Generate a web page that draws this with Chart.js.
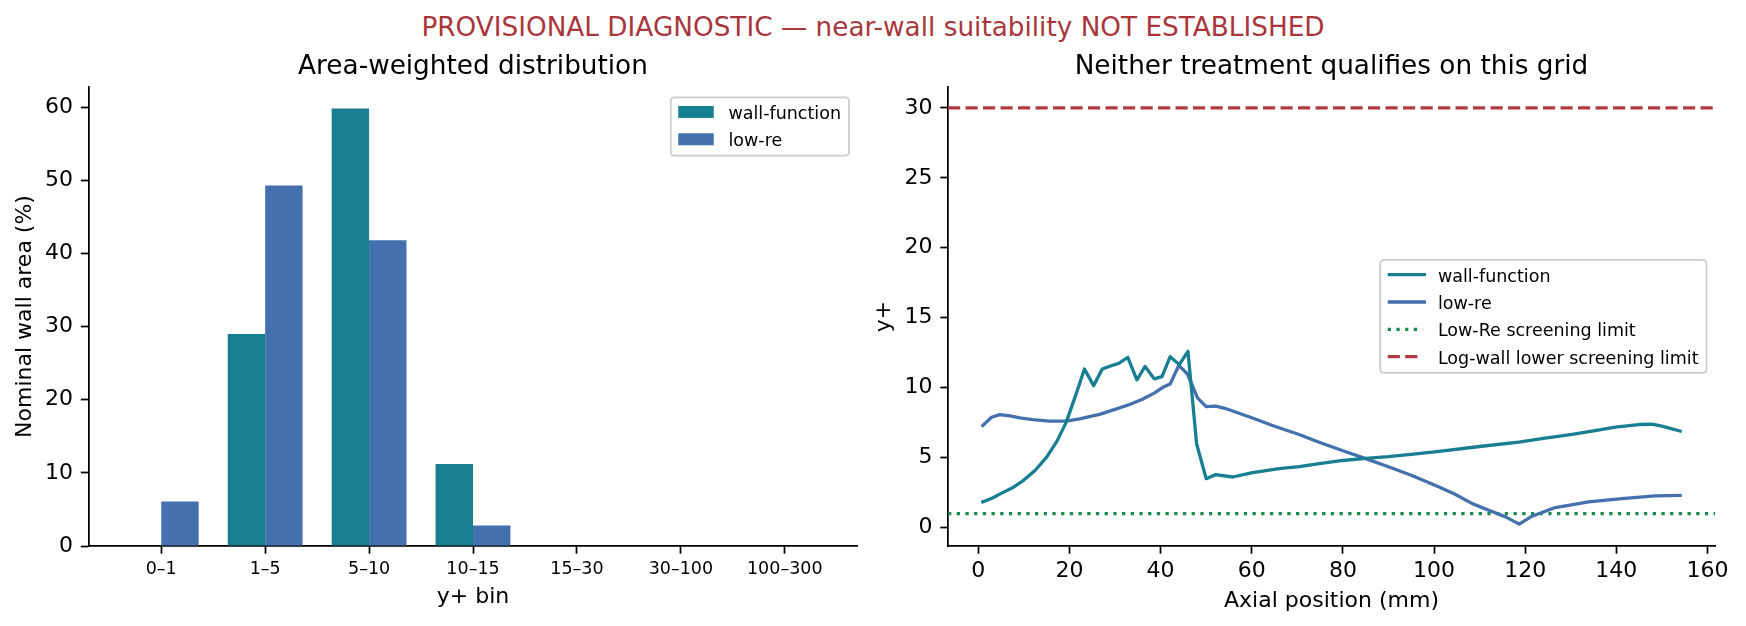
<!DOCTYPE html>
<html>
<head>
<meta charset="utf-8">
<script src="https://cdn.jsdelivr.net/npm/chart.js@4.4.1/dist/chart.umd.min.js"></script>
<style>
html,body{margin:0;padding:0;background:#fff;}
#wrap{position:relative;width:1746px;height:626px;overflow:hidden;background:#fff;}
#wrap canvas{position:absolute;left:0;top:0;}
#sup{position:absolute;left:0;top:12px;width:1746px;text-align:center;font-family:"DejaVu Sans";font-size:26.3px;line-height:30px;color:#a8363c;white-space:nowrap;}
</style>
</head>
<body>
<div id="wrap">
  <div id="sup">PROVISIONAL DIAGNOSTIC — near-wall suitability NOT ESTABLISHED</div>
  <canvas id="c1" width="1746" height="626"></canvas>
  <canvas id="c2" width="1746" height="626"></canvas>
</div>
<script>
// ---------- data: left panel (area-weighted distribution, % of wall area) ----------
const yPlusBins      = ['0–1', '1–5', '5–10', '10–15', '15–30', '30–100', '100–300'];
const wallFunctionPct = [0, 29.0, 59.8, 11.2, 0, 0, 0];
const lowRePct        = [6.1, 49.3, 41.8, 2.8, 0, 0, 0];
const leftYTicks      = [0, 10, 20, 30, 40, 50, 60];

// ---------- data: right panel (y+ along axial position) ----------
const wallFunctionX = [1.0, 3.0, 5.0, 7.5, 10.0, 12.5, 15.0, 17.3, 19.3, 21.3, 23.3, 25.3, 27.2, 29.0, 30.8, 32.8, 34.8, 36.6, 38.6, 40.3, 42.1, 44.1, 46.0, 47.9, 50.0, 52.1, 55.8, 60.2, 66.0, 70.4, 74.8, 80.0, 85.0, 90.0, 96.0, 101.1, 110.0, 118.6, 124.0, 130.3, 135.0, 139.8, 144.9, 147.8, 150.0, 154.0];
const wallFunctionY = [1.85, 2.1, 2.45, 2.85, 3.4, 4.1, 5.04, 6.2, 7.54, 9.4, 11.34, 10.15, 11.34, 11.55, 11.74, 12.17, 10.56, 11.52, 10.63, 10.79, 12.22, 11.65, 12.6, 6.0, 3.5, 3.79, 3.62, 3.93, 4.22, 4.36, 4.57, 4.8, 4.95, 5.08, 5.28, 5.45, 5.8, 6.11, 6.38, 6.66, 6.92, 7.18, 7.37, 7.39, 7.25, 6.9];
const lowReX = [1.0, 2.9, 4.7, 7.0, 9.1, 12.0, 15.7, 19.3, 22.2, 26.6, 30.0, 33.2, 36.0, 38.7, 40.5, 42.1, 44.0, 45.9, 48.1, 50.0, 52.1, 54.1, 60.0, 65.0, 70.4, 74.8, 80.0, 85.0, 90.0, 95.0, 101.1, 104.5, 108.4, 112.0, 115.7, 118.7, 121.5, 126.6, 133.9, 141.2, 148.5, 154.0];
const lowReY = [7.3, 7.89, 8.08, 7.98, 7.85, 7.72, 7.61, 7.61, 7.78, 8.1, 8.45, 8.8, 9.18, 9.63, 10.03, 10.27, 11.6, 10.98, 9.27, 8.65, 8.68, 8.53, 7.85, 7.25, 6.66, 6.1, 5.5, 4.93, 4.35, 3.75, 2.91, 2.4, 1.72, 1.25, 0.77, 0.25, 0.82, 1.44, 1.84, 2.08, 2.27, 2.31];
const lowReScreeningLimit = 1;
const logWallLowerLimit   = 30;
const rightXTicks = [0, 20, 40, 60, 80, 100, 120, 140, 160];
const rightYTicks = [0, 5, 10, 15, 20, 25, 30];

// ---------- axis ranges ----------
const LEFT_X_MIN = -0.7, LEFT_X_MAX = 6.7, LEFT_Y_MIN = 0, LEFT_Y_MAX = 62.76;
const RIGHT_X_MIN = -6.65, RIGHT_X_MAX = 161.65, RIGHT_Y_MIN = -1.31, RIGHT_Y_MAX = 31.49;

// ---------- styles ----------
const FAMILY = '"DejaVu Sans"';
const TEAL = '#187e92', BLUE = '#4471ad', GREEN = '#1b8a50', RED = '#b03c42';
const LW = 3.3;

const axisCommon = (tickSize) => ({
  grid: {display: true, offset: false, drawOnChartArea: false, drawTicks: true, tickLength: 7.7, tickWidth: 1.75, tickColor: '#000'},
  border: {display: true, color: '#000', width: 1.75},
  ticks: {color: '#000', font: {family: FAMILY, size: tickSize}, autoSkip: false, maxRotation: 0, minRotation: 0}
});

// matplotlib-style legend box drawn from the chart's own datasets
const mplLegend = {
  id: 'mplLegend',
  afterDraw(chart, args, opts) {
    const {ctx, chartArea: ca} = chart;
    const isBar = chart.config.type === 'bar';
    const dsets = chart.data.datasets;
    ctx.save();
    ctx.font = '17.5px ' + FAMILY;
    const maxW = Math.max(...dsets.map(d => ctx.measureText(d.label).width));
    const rowH = 27.3;
    const w = 57.7 + maxW + 8;
    const h = dsets.length * rowH + 3.8;
    const x = ca.right - 8.5 - w;
    const y = opts.loc === 'center right' ? (ca.top + ca.bottom) / 2 - h / 2 : ca.top + 10.3;
    const r = 4;
    ctx.beginPath();
    ctx.moveTo(x + r, y);
    ctx.lineTo(x + w - r, y); ctx.quadraticCurveTo(x + w, y, x + w, y + r);
    ctx.lineTo(x + w, y + h - r); ctx.quadraticCurveTo(x + w, y + h, x + w - r, y + h);
    ctx.lineTo(x + r, y + h); ctx.quadraticCurveTo(x, y + h, x, y + h - r);
    ctx.lineTo(x, y + r); ctx.quadraticCurveTo(x, y, x + r, y);
    ctx.closePath();
    ctx.fillStyle = 'rgba(255,255,255,0.8)';
    ctx.fill();
    ctx.lineWidth = 1.75;
    ctx.strokeStyle = '#cccccc';
    ctx.stroke();
    dsets.forEach((d, i) => {
      const cy = y + 14.7 + i * rowH;
      const hx = x + 7.5;
      if (isBar) {
        ctx.fillStyle = d.backgroundColor;
        ctx.fillRect(hx, cy - 6, 35.5, 12);
      } else {
        ctx.save();
        ctx.strokeStyle = d.borderColor;
        ctx.lineWidth = d.borderWidth;
        const dash = d.borderDash || [];
        ctx.setLineDash(dash);
        ctx.lineCap = dash.length ? 'butt' : 'square';
        ctx.beginPath();
        ctx.moveTo(hx + (dash.length ? 0 : 1.65), cy);
        ctx.lineTo(hx + (dash.length ? 35 : 36.65), cy);
        ctx.stroke();
        ctx.restore();
      }
      ctx.fillStyle = '#000';
      ctx.textBaseline = 'alphabetic';
      ctx.textAlign = 'left';
      ctx.fillText(d.label, x + 57.7, cy + 7);
    });
    ctx.restore();
  }
};

// ---------- left chart ----------
const lx = axisCommon(17.5), ly = axisCommon(22);
new Chart(document.getElementById('c1'), {
  type: 'bar',
  data: {
    datasets: [
      {label: 'wall-function', data: yPlusBins.map((b, i) => ({x: i, y: wallFunctionPct[i]})), backgroundColor: TEAL, borderWidth: 0},
      {label: 'low-re', data: yPlusBins.map((b, i) => ({x: i, y: lowRePct[i]})), backgroundColor: BLUE, borderWidth: 0}
    ]
  },
  options: {
    responsive: false, animation: false, devicePixelRatio: 1,
    layout: {padding: {left: 0, right: 1746 - 857.5, top: 0, bottom: 0}},
    datasets: {bar: {categoryPercentage: 0.72, barPercentage: 1.0}},
    plugins: {
      legend: {display: false}, tooltip: {enabled: false},
      title: {display: true, text: 'Area-weighted distribution', fullSize: false, color: '#000',
              font: {family: FAMILY, size: 26.3, weight: 'normal'}, padding: {top: 50.9, bottom: 4.5}},
      mplLegend: {loc: 'upper right'}
    },
    scales: {
      x: {
        type: 'linear', offset: false, min: LEFT_X_MIN, max: LEFT_X_MAX,
        grid: lx.grid, border: lx.border,
        ticks: Object.assign({}, lx.ticks, {padding: 5.3, callback: v => yPlusBins[v]}),
        afterBuildTicks: s => { s.ticks = yPlusBins.map((b, i) => ({value: i})); },
        afterFit: s => { s.height = 80; },
        title: {display: true, text: 'y+ bin', color: '#000', font: {family: FAMILY, size: 22}, padding: {top: 0, bottom: 15.5}}
      },
      y: {
        type: 'linear', min: LEFT_Y_MIN, max: LEFT_Y_MAX,
        grid: ly.grid, border: ly.border,
        ticks: Object.assign({}, ly.ticks, {padding: 7.7}),
        afterBuildTicks: s => { s.ticks = leftYTicks.map(v => ({value: v})); },
        afterFit: s => { s.width = 88.5; },
        title: {display: true, text: 'Nominal wall area (%)', color: '#000', font: {family: FAMILY, size: 22}, padding: {top: 12, bottom: 0}}
      }
    }
  },
  plugins: [mplLegend]
});

// ---------- right chart ----------
const rx = axisCommon(22), ry = axisCommon(22);
const lineStyle = {pointRadius: 0, tension: 0, borderWidth: LW, borderJoinStyle: 'round', fill: false};
new Chart(document.getElementById('c2'), {
  type: 'line',
  data: {
    datasets: [
      Object.assign({label: 'wall-function', data: wallFunctionX.map((x, i) => ({x, y: wallFunctionY[i]})), borderColor: TEAL, borderCapStyle: 'square'}, lineStyle),
      Object.assign({label: 'low-re', data: lowReX.map((x, i) => ({x, y: lowReY[i]})), borderColor: BLUE, borderCapStyle: 'square'}, lineStyle),
      Object.assign({label: 'Low-Re screening limit', data: [{x: RIGHT_X_MIN, y: lowReScreeningLimit}, {x: RIGHT_X_MAX, y: lowReScreeningLimit}],
                     borderColor: GREEN, borderDash: [3.3, 5.4], borderCapStyle: 'butt'}, lineStyle),
      Object.assign({label: 'Log-wall lower screening limit', data: [{x: RIGHT_X_MIN, y: logWallLowerLimit}, {x: RIGHT_X_MAX, y: logWallLowerLimit}],
                     borderColor: RED, borderDash: [12.2, 5.3], borderCapStyle: 'butt'}, lineStyle)
    ]
  },
  options: {
    responsive: false, animation: false, devicePixelRatio: 1,
    layout: {padding: {left: 860, right: 1746 - 1715, top: 0, bottom: 0}},
    plugins: {
      legend: {display: false}, tooltip: {enabled: false},
      title: {display: true, text: 'Neither treatment qualifies on this grid', fullSize: false, color: '#000',
              font: {family: FAMILY, size: 26.3, weight: 'normal'}, padding: {top: 50.9, bottom: 4.5}},
      mplLegend: {loc: 'center right'}
    },
    scales: {
      x: {
        type: 'linear', min: RIGHT_X_MIN, max: RIGHT_X_MAX,
        grid: rx.grid, border: rx.border,
        ticks: Object.assign({}, rx.ticks, {padding: 4.7}),
        afterBuildTicks: s => { s.ticks = rightXTicks.map(v => ({value: v})); },
        afterFit: s => { s.height = 80; },
        title: {display: true, text: 'Axial position (mm)', color: '#000', font: {family: FAMILY, size: 22}, padding: {top: 0, bottom: 11.8}}
      },
      y: {
        type: 'linear', min: RIGHT_Y_MIN, max: RIGHT_Y_MAX,
        grid: ry.grid, border: ry.border,
        ticks: Object.assign({}, ry.ticks, {padding: 7.7}),
        afterBuildTicks: s => { s.ticks = rightYTicks.map(v => ({value: v})); },
        afterFit: s => { s.width = 88; },
        title: {display: true, text: 'y+', color: '#000', font: {family: FAMILY, size: 22}, padding: {top: 11.5, bottom: 0}}
      }
    }
  },
  plugins: [mplLegend]
});
</script>
</body>
</html>
